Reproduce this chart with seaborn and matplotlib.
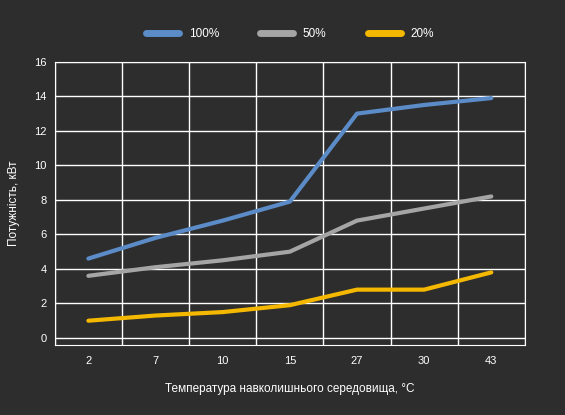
import numpy as np
import pandas as pd
import seaborn as sns
import matplotlib.pyplot as plt

temps = ["2", "7", "10", "15", "27", "30", "43"]
p100 = [4.6, 5.8, 6.8, 7.9, 13.0, 13.5, 13.9]
p50 = [3.6, 4.1, 4.5, 5.0, 6.8, 7.5, 8.2]
p20 = [1.0, 1.3, 1.5, 1.9, 2.8, 2.8, 3.8]

bg = "#2d2d2d"
sns.set_style("dark")
plt.rcParams["font.family"] = ["Liberation Sans", "DejaVu Sans"]

df = pd.DataFrame({"x": list(range(len(temps))) * 3,
                   "y": p100 + p50 + p20,
                   "s": ["100%"] * 7 + ["50%"] * 7 + ["20%"] * 7})

fig = plt.figure(figsize=(5.65, 4.15), dpi=100, facecolor=bg)
ax = fig.add_axes([0.097, 0.169, 0.832, 0.682])
ax.set_facecolor(bg)
sns.lineplot(data=df, x="x", y="y", hue="s", ax=ax, linewidth=3,
             palette={"100%": "#5b8cc8", "50%": "#a5a5a5", "20%": "#f5b800"})

ax.set_xlim(-0.5, 6.5)
ax.set_ylim(-0.4, 16)
ax.set_xticks(range(len(temps)))
ax.set_xticklabels(temps)
ax.set_xticks(np.arange(-0.5, 6.6, 1), minor=True)
ax.set_yticks(range(0, 17, 2))
ax.grid(False)
ax.grid(True, which="minor", axis="x", color="white", linewidth=1)
ax.grid(True, which="major", axis="y", color="white", linewidth=1)
ax.set_axisbelow(True)
for s in ax.spines.values():
    s.set_color("white")
ax.tick_params(colors="white", labelsize=8, length=0, which="both")
ax.tick_params(axis="y", pad=6)
ax.tick_params(axis="x", pad=8)
ax.set_xlabel("Температура навколишнього середовища, °C", color="white", fontsize=8.5, labelpad=12)
ax.set_ylabel("Потужність, кВт", color="white", fontsize=8.5, labelpad=10)
leg = ax.legend(loc="lower center", bbox_to_anchor=(0.5, 1.04), ncol=3, frameon=False,
                fontsize=8.5, handlelength=2.8, columnspacing=3.5)
for line in leg.get_lines():
    line.set_linewidth(5)
for t in leg.get_texts():
    t.set_color("white")
fig.savefig("out.png", facecolor=bg)
